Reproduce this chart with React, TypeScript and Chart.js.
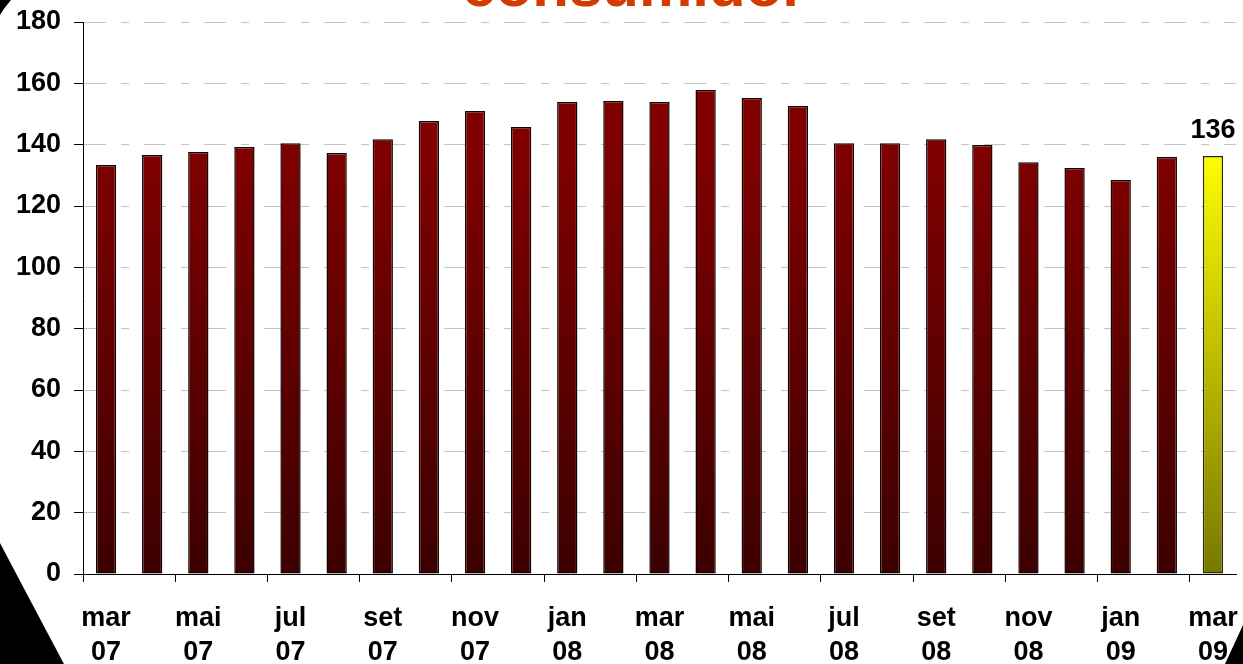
import React, { useEffect, useRef } from "react";
import { Chart, registerables } from "chart.js";

Chart.register(...registerables);

const months = ["mar", "abr", "mai", "jun", "jul", "ago", "set", "out", "nov", "dez", "jan", "fev", "mar", "abr", "mai", "jun", "jul", "ago", "set", "out", "nov", "dez", "jan", "fev", "mar"];
const years = ["07", "07", "07", "07", "07", "07", "07", "07", "07", "07", "08", "08", "08", "08", "08", "08", "08", "08", "08", "08", "08", "08", "09", "09", "09"];
const values = [133.4, 136.6, 137.6, 139.2, 140.5, 137.3, 141.8, 147.7, 151.0, 145.8, 153.9, 154.2, 153.9, 157.8, 155.2, 152.6, 140.5, 140.5, 141.8, 139.9, 134.3, 132.4, 128.5, 136.0, 136.3];
const yTicks = [0, 20, 40, 60, 80, 100, 120, 140, 160, 180];
const titleText = "consumidor";
const highlightLabel = "136";

const FONT = "'Liberation Sans', Arial, sans-serif";

export default function App() {
  const ref = useRef<HTMLCanvasElement | null>(null);

  useEffect(() => {
    document.body.style.margin = "0";
    const canvas = ref.current!;
    const last = values.length - 1;

    const decor = {
      id: "decor",
      beforeDraw(chart: any) {
        const c = chart.ctx;
        c.save();
        c.fillStyle = "#ffffff";
        c.fillRect(0, 0, chart.width, chart.height);
        c.restore();
      },
      afterDraw(chart: any) {
        const c = chart.ctx;
        c.save();
        // title (cut off at top)
        c.fillStyle = "#d23c00";
        c.font = `bold 60px ${FONT}`;
        c.textAlign = "center";
        c.textBaseline = "alphabetic";
        c.fillText(titleText, 634, 6);
        // value label on last bar
        const meta = chart.getDatasetMeta(0);
        const bar = meta.data[last];
        c.fillStyle = "#000000";
        c.font = `bold 27px ${FONT}`;
        c.fillText(highlightLabel, bar.x, bar.y - 18);
        // black corners
        c.fillStyle = "#000000";
        c.beginPath();
        c.moveTo(0, 0);
        c.lineTo(11, 0);
        c.quadraticCurveTo(4, 8, 0, 15);
        c.closePath();
        c.fill();
        c.beginPath();
        c.moveTo(0, 543);
        c.quadraticCurveTo(30, 600, 64, 664);
        c.lineTo(0, 664);
        c.closePath();
        c.fill();
        c.beginPath();
        c.moveTo(1243, 625);
        c.lineTo(1225, 664);
        c.lineTo(1243, 664);
        c.closePath();
        c.fill();
        c.restore();
      },
    };

    const makeGrad = (chart: any, top: string, bottom: string) => {
      const area = chart.chartArea;
      if (!area) return top;
      const g = chart.ctx.createLinearGradient(0, area.top, 0, area.bottom);
      g.addColorStop(0, top);
      g.addColorStop(0.23, top);
      g.addColorStop(1, bottom);
      return g;
    };

    const chart = new Chart(canvas, {
      type: "bar",
      data: {
        labels: months.map((m, i) => [m, years[i]]),
        datasets: [
          {
            data: values,
            backgroundColor: (ctx: any) =>
              ctx.dataIndex === last
                ? makeGrad(ctx.chart, "#ffff00", "#787800")
                : makeGrad(ctx.chart, "#800000", "#3c0000"),
            borderColor: (ctx: any) => (ctx.dataIndex === last ? "#2a2a00" : "#140000"),
            borderWidth: 1.5,
            borderSkipped: false,
            barPercentage: 0.44,
            categoryPercentage: 1,
          },
        ],
      },
      options: {
        responsive: false,
        animation: false,
        devicePixelRatio: 1,
        layout: { padding: { top: 22, right: 7, left: 0, bottom: 0 } },
        plugins: {
          legend: { display: false },
          title: { display: false },
          tooltip: { enabled: false },
        },
        scales: {
          x: {
            offset: true,
            afterFit(scale: any) {
              scale.height = 90;
              scale.paddingLeft = 0;
              scale.paddingRight = 0;
            },
            border: { display: true, color: "#000000", width: 1 },
            grid: {
              offset: true,
              drawOnChartArea: false,
              drawTicks: true,
              tickLength: 8,
              color: (ctx: any) => (ctx.index % 2 === 0 ? "#000000" : "rgba(0,0,0,0)"),
            },
            ticks: {
              autoSkip: false,
              maxRotation: 0,
              minRotation: 0,
              padding: 19,
              color: "#000000",
              font: { family: FONT, size: 27, weight: "bold", lineHeight: 1.27 },
              callback: (_v: any, i: number) => (i % 2 === 0 ? [months[i], years[i]] : ""),
            },
          },
          y: {
            min: 0,
            max: 180,
            afterFit(scale: any) {
              scale.width = 83;
              scale.paddingTop = 0;
              scale.paddingBottom = 0;
            },
            afterBuildTicks(scale: any) {
              scale.ticks = yTicks.map((v) => ({ value: v }));
            },
            border: { display: true, color: "#000000", width: 1, dash: [22, 15, 8, 15] },
            grid: {
              color: "#c4c4c4",
              lineWidth: 1,
              tickColor: "#000000",
              tickBorderDash: [],
              tickLength: 9,
            },
            ticks: {
              padding: 13,
              color: "#000000",
              font: { family: FONT, size: 27, weight: "bold" },
            },
          },
        },
      },
      plugins: [decor],
    } as any);

    return () => chart.destroy();
  }, []);

  return (
    <div style={{ width: 1243, height: 664 }}>
      <canvas ref={ref} width={1243} height={664} style={{ display: "block" }} />
    </div>
  );
}
